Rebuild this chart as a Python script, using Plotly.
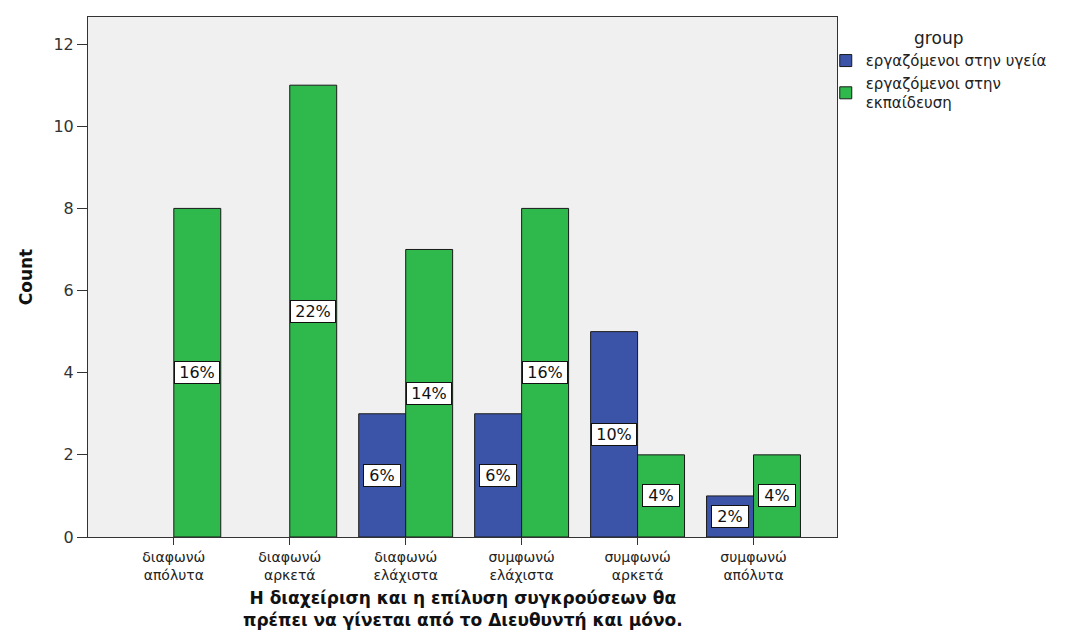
import plotly.graph_objects as go

categories = ["διαφωνώ<br>απόλυτα", "διαφωνώ<br>αρκετά", "διαφωνώ<br>ελάχιστα",
              "συμφωνώ<br>ελάχιστα", "συμφωνώ<br>αρκετά", "συμφωνώ<br>απόλυτα"]
health = [0, 0, 3, 3, 5, 1]
education = [8, 11, 7, 8, 2, 2]
total = 50
series_names = ["εργαζόμενοι στην υγεία", "εργαζόμενοι στην<br>εκπαίδευση"]
colors = ["#3b54a8", "#2fb84b"]
y_ticks = [0, 2, 4, 6, 8, 10, 12]
x_title_lines = ["Η διαχείριση και η επίλυση συγκρούσεων θα",
                 "πρέπει να γίνεται από το Διευθυντή και μόνο."]

xs = list(range(len(categories)))
font = "DejaVu Sans, Verdana, sans-serif"

fig = go.Figure()
for name, vals, col in zip(series_names, [health, education], colors):
    fig.add_trace(go.Bar(x=xs, y=[v if v > 0 else None for v in vals], name=name,
                         marker=dict(color=col, line=dict(color="#1a1a1a", width=1))))

bar_w = 0.81 / 2
annotations = []
for k, vals in enumerate([health, education]):
    off = (k - 0.5) * bar_w
    for i, v in enumerate(vals):
        if v <= 0:
            continue
        label = f"{round(100 * v / total)}%"
        annotations.append(dict(
            x=i + off, y=v / 2, xref="x", yref="y",
            text=label, showarrow=False,
            font=dict(family=font, size=16, color="#111111"),
            bgcolor="white", bordercolor="#111111", borderwidth=1, borderpad=1,
            width=42 if len(label) > 2 else 34,
        ))

# x-axis title as one two-line block (plot area: y 17..537 px, height 520 px)
annotations.append(dict(
    x=0.5, xref="paper", y=(537 - 609) / 520, yref="paper",
    xanchor="center", yanchor="middle", showarrow=False,
    text="<b>" + "<br>".join(x_title_lines) + "</b>",
    font=dict(family=font, size=17, color="#111111"),
))

fig.update_layout(
    width=1072, height=632,
    margin=dict(l=88, r=235, t=17, b=95),
    paper_bgcolor="white", plot_bgcolor="#f0f0f0",
    barmode="group", bargap=0.19, bargroupgap=0,
    font=dict(family=font, size=15, color="#222222"),
    annotations=annotations,
    showlegend=True,
    legend=dict(
        x=0.985, xanchor="left", y=0.99, yanchor="top",
        title=dict(text="group", side="top center", font=dict(size=17)),
        font=dict(size=15), itemwidth=30, tracegroupgap=0,
        bgcolor="rgba(0,0,0,0)",
    ),
    xaxis=dict(
        range=[-0.74, 5.72], tickvals=xs, ticktext=categories,
        ticks="outside", ticklen=7, tickcolor="#333333",
        showline=True, linecolor="#333333", linewidth=1, mirror=True,
        showgrid=False, zeroline=False, automargin=False,
        tickfont=dict(size=14),
    ),
    yaxis=dict(
        range=[0, 12.66], tickvals=y_ticks,
        ticks="outside", ticklen=10, tickcolor="#333333",
        showline=True, linecolor="#333333", linewidth=1, mirror=True,
        showgrid=False, zeroline=False, automargin=False,
        tickfont=dict(size=16, color="#333333"),
        title=dict(text="<b>Count</b>", font=dict(size=17, color="#111111"), standoff=16),
    ),
)

fig.write_html("out.html")
